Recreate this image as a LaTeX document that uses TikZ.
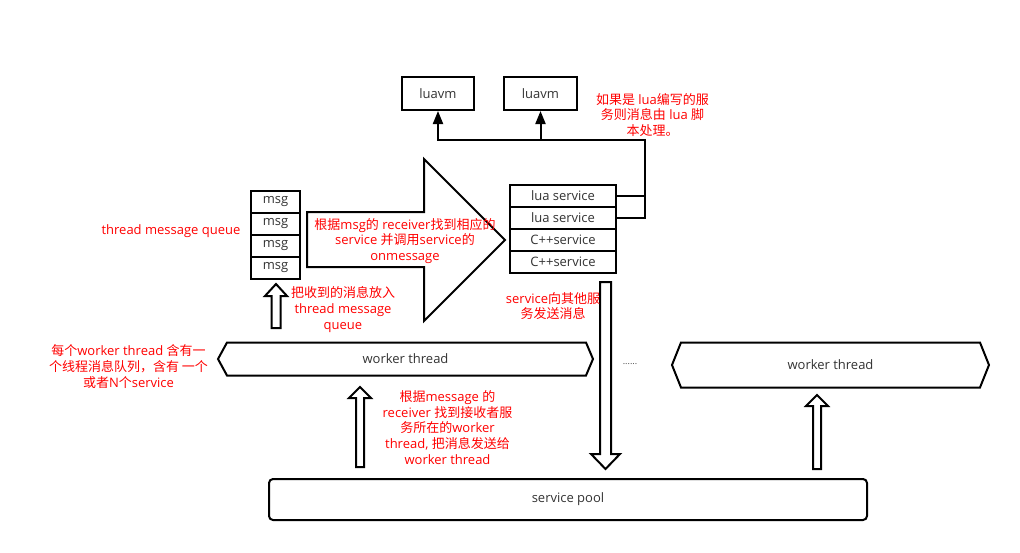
\documentclass[tikz,border=0pt]{standalone}
\usepackage{fontspec}
\setmainfont{Open Sans}
\newfontfamily\zhfont{Noto Sans CJK SC}
\newcommand\zh[1]{{\zhfont #1}}
\usetikzlibrary{arrows.meta}
\begin{document}
\begin{tikzpicture}[x=1pt,y=-1pt,
  font=\fontsize{13}{15.7}\selectfont,
  box/.style={draw=black, line width=2pt, text=black!80, inner sep=0pt, fill=white},
  note/.style={text=red, align=center, inner sep=0pt},
  blk/.style={draw=black, line width=2pt, fill=white, line join=miter},
  conn/.style={draw=black, line width=2pt},
  tip/.style={-{Triangle[width=10pt,length=13pt]}}
]
\useasboundingbox (0,0) rectangle (1020,552);

% luavm boxes
\node[box, minimum width=72pt, minimum height=33pt] (vm1) at (438,93.5) {luavm};
\node[box, minimum width=73pt, minimum height=33pt] (vm2) at (540.5,93.5) {luavm};

% service stack
\node[box, minimum width=106pt, minimum height=22pt] (ls1) at (563,196) {lua service};
\node[box, minimum width=106pt, minimum height=22pt] (ls2) at (563,218) {lua service};
\node[box, minimum width=106pt, minimum height=22pt] (cs1) at (563,240) {C++service};
\node[box, minimum width=106pt, minimum height=22pt] (cs2) at (563,262) {C++service};

% msg queue
\node[box, minimum width=49pt, minimum height=22pt] (m1) at (275.5,202) {msg};
\node[box, minimum width=49pt, minimum height=22pt] (m2) at (275.5,224) {msg};
\node[box, minimum width=49pt, minimum height=22pt] (m3) at (275.5,246) {msg};
\node[box, minimum width=49pt, minimum height=22pt] (m4) at (275.5,268) {msg};

% connectors to luavm
\coordinate (jr) at (645,140);
\draw[conn, tip] (ls1.east) -| (jr) -| (vm1.south);
\draw[conn] (ls2.east) -| (jr);
\draw[conn, tip] (vm2.south |- jr) -- (vm2.south);

% big block arrow
\draw[blk] (307,212) -- (424,212) -- (424,159) -- (505,240) -- (424,321) -- (424,267) -- (307,267) -- cycle;
\node[note] (bigtxt) at (405,241) {\zh{根据}msg\zh{的} receiver\zh{找到相应的}\\service \zh{并调用}service\zh{的}\\onmessage};

% worker threads
\draw[blk] (218,359) -- (227,342.5) -- (586,342.5) -- (593,359) -- (586,375.5) -- (227,375.5) -- cycle;
\node[text=black!80, inner sep=0pt] (wt1) at (405.5,359) {worker thread};
\draw[blk] (672,365) -- (681,342.5) -- (980,342.5) -- (989,365) -- (980,387.5) -- (681,387.5) -- cycle;
\node[text=black!80, inner sep=0pt] (wt2) at (830.5,365) {worker thread};
\node[text=black!70, font=\fontsize{9}{10}\selectfont, inner sep=0pt] (dots) at (630,364) {......};

% service pool
\node[box, minimum width=598pt, minimum height=41pt, rounded corners=4pt] (pool) at (568,499.5) {service pool};

% block arrows
\draw[blk] (271.5,328) -- (271.5,296) -- (265,296) -- (276,284) -- (287,296) -- (280.5,296) -- (280.5,328) -- cycle;
\draw[blk] (356,467) -- (356,398) -- (349,398) -- (360,387) -- (371,398) -- (364,398) -- (364,467) -- cycle;
\draw[blk] (813,469) -- (813,406) -- (806,406) -- (817,395) -- (828,406) -- (821,406) -- (821,469) -- cycle;
\draw[blk] (600,282) -- (611,282) -- (611,454) -- (620,454) -- (605.5,469) -- (591,454) -- (600,454) -- cycle;

% notes
\node[note] (n1) at (171,231.5) {thread message queue};
\node[note] (n2) at (343,309.5) {\zh{把收到的消息放入}\\thread message\\queue};
\node[note] (n3) at (553,306) {service\zh{向其他服}\\\zh{务发送消息}};
\node[note] (n4) at (652.5,115) {\zh{如果是} lua\zh{编写的服}\\\zh{务则消息由} lua \zh{脚}\\\zh{本处理。}};
\node[note] (n5) at (128.5,366.7) {\zh{每个}worker thread \zh{含有一}\\\zh{个线程消息队列，含有 一个}\\\zh{或者}N\zh{个}service};
\node[note] (n6) at (447.5,427.3) {\zh{根据}message \zh{的}\\receiver \zh{找到接收者服}\\\zh{务所在的}worker\\thread, \zh{把消息发送给}\\worker thread};
\end{tikzpicture}
\end{document}
